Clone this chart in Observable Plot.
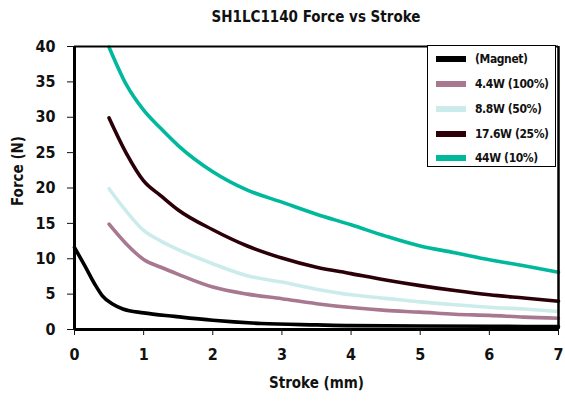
<!DOCTYPE html>
<html>
<head>
<meta charset="utf-8">
<script src="https://cdn.jsdelivr.net/npm/d3@7"></script>
<script src="https://cdn.jsdelivr.net/npm/@observablehq/plot@0.6"></script>
<style>
  html, body { margin: 0; padding: 0; background: #fff; }
  #wrap { position: relative; width: 565px; height: 408px; font-family: "DejaVu Sans Condensed", "Liberation Sans Narrow", sans-serif; font-weight: bold; font-stretch: condensed; }
  #title { position: absolute; left: 74px; width: 484px; top: 0; height: 30px; line-height: 34px; text-align: center; font-size: 15px; color: #111; }
  #chart { position: absolute; left: 0; top: 30px; }
  #legend { position: absolute; left: 427px; top: 45px; width: 129px; height: 122px; border: 1.5px solid #000; background: #fff; box-sizing: border-box; }
  .li { position: absolute; left: 0; height: 20px; width: 128px; }
  .sw { position: absolute; left: 8px; top: 7px; width: 30px; height: 6px; }
  .lt { position: absolute; left: 47px; top: 0; line-height: 20px; font-size: 12px; letter-spacing: -0.4px; white-space: nowrap; color: #111; }
</style>
</head>
<body>
<div id="wrap">
  <div id="title">SH1LC1140 Force vs Stroke</div>
  <div id="chart"></div>
  <div id="legend"></div>
</div>
<script>
// Series names and colours
const seriesNames = ["(Magnet)", "4.4W (100%)", "8.8W (50%)", "17.6W (25%)", "44W (10%)"];
const seriesColors = ["#000000", "#A7788F", "#CCECEC", "#2B0008", "#00B89C"];

// Magnet only curve
const strokeMagnet = [0, 0.15, 0.3, 0.4, 0.55, 0.7, 1.0, 1.45, 2.0, 2.7, 3.5, 4.0, 5.0, 6.0, 7.0];
const forceMagnet  = [11.6, 9.0, 6.3, 4.8, 3.6, 2.9, 2.35, 1.85, 1.3, 0.85, 0.65, 0.55, 0.5, 0.45, 0.4];

// Energised curves share stroke positions
const strokeCoil = [0.5, 0.75, 1.0, 1.25, 1.5, 2.0, 2.5, 3.0, 3.5, 4.0, 4.5, 5.0, 5.5, 6.0, 6.5, 7.0];
const force4W  = [14.9, 12.1, 9.9, 8.8, 7.8, 6.0, 5.0, 4.35, 3.65, 3.1, 2.7, 2.45, 2.15, 2.0, 1.75, 1.6];
const force8W  = [19.9, 16.7, 14.0, 12.5, 11.3, 9.3, 7.6, 6.7, 5.7, 4.9, 4.4, 3.9, 3.5, 3.15, 2.9, 2.55];
const force17W = [29.9, 24.9, 21.0, 18.9, 16.9, 14.1, 11.8, 10.1, 8.8, 7.9, 7.0, 6.2, 5.5, 4.9, 4.45, 4.0];
const force44W = [39.9, 34.6, 31.0, 28.4, 26.0, 22.3, 19.7, 18.0, 16.3, 14.8, 13.2, 11.8, 10.85, 9.85, 9.0, 8.1];

// Axis ticks
const xTicks = [0, 1, 2, 3, 4, 5, 6, 7];
const yTicks = [0, 5, 10, 15, 20, 25, 30, 35, 40];

const data = [];
strokeMagnet.forEach((s, i) => data.push({series: seriesNames[0], stroke: s, force: forceMagnet[i]}));
[force4W, force8W, force17W, force44W].forEach((arr, k) => {
  strokeCoil.forEach((s, i) => data.push({series: seriesNames[k + 1], stroke: s, force: arr[i]}));
});

const chart = Plot.plot({
  width: 565,
  height: 378,
  marginTop: 16,
  marginBottom: 79,
  marginLeft: 74,
  marginRight: 7,
  style: {fontFamily: '"DejaVu Sans Condensed", sans-serif', fontWeight: "bold", fontSize: "16px", color: "#111", background: "#fff"},
  x: {domain: [0, 7]},
  y: {domain: [0, 40]},
  color: {domain: seriesNames, range: seriesColors},
  marks: [
    Plot.line(data, {x: "stroke", y: "force", z: "series", stroke: "series", strokeWidth: 3.6, curve: "monotone-x"}),
    Plot.ruleY([40], {stroke: "#000", strokeWidth: 2}),
    Plot.ruleX([7], {stroke: "#000", strokeWidth: 2.5}),
    Plot.ruleX([0], {stroke: "#000", strokeWidth: 3}),
    Plot.ruleY([0], {stroke: "#000", strokeWidth: 3}),
    Plot.axisX({ticks: xTicks, tickSize: 6, tickPadding: 13, label: null, tickFormat: d3.format("d")}),
    Plot.axisY({ticks: yTicks, tickSize: 7, tickPadding: 12, label: null, tickFormat: d3.format("d")}),
    Plot.text(["Stroke (mm)"], {frameAnchor: "bottom", dy: 58, fontSize: 15}),
    Plot.text(["Force (N)"], {frameAnchor: "left", dx: -56, dy: 18, rotate: -90, fontSize: 15})
  ]
});
document.getElementById("chart").appendChild(chart);

const legend = document.getElementById("legend");
const rowTops = [3, 28, 53, 78, 102];
seriesNames.forEach((name, i) => {
  const row = document.createElement("div");
  row.className = "li";
  row.style.top = rowTops[i] + "px";
  const sw = document.createElement("div");
  sw.className = "sw";
  sw.style.background = seriesColors[i];
  const t = document.createElement("div");
  t.className = "lt";
  t.textContent = name;
  row.appendChild(sw);
  row.appendChild(t);
  legend.appendChild(row);
});
</script>
</body>
</html>
